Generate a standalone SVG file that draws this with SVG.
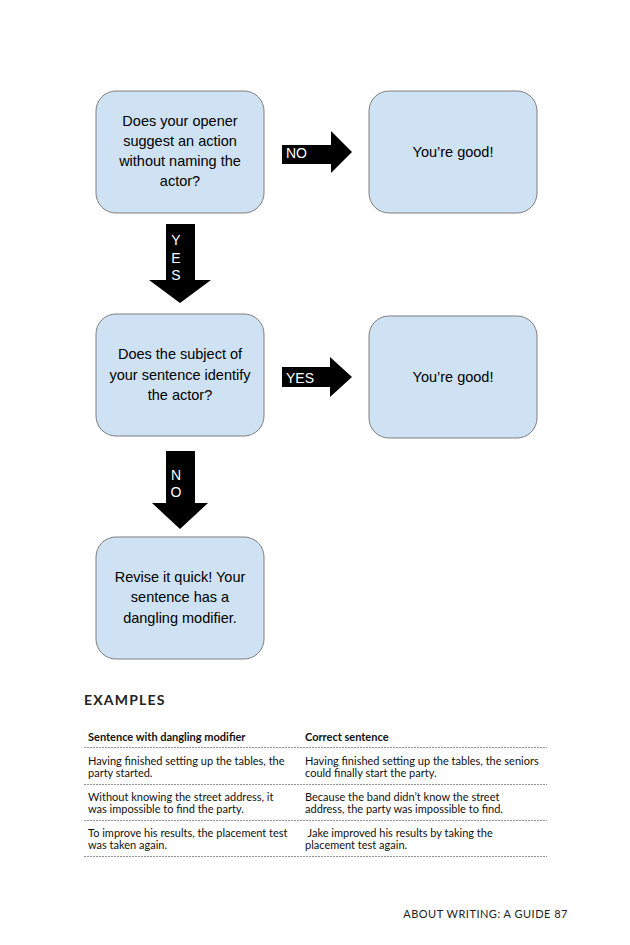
<svg xmlns="http://www.w3.org/2000/svg" width="630" height="945" viewBox="0 0 630 945">
<style>
.box{fill:#cfe2f3;stroke:#7f7f7f;stroke-width:1}
.bt{font-family:"Liberation Sans",Arial,sans-serif;font-size:14.5px;fill:#000;text-anchor:middle}
.arr{fill:#000}
.at{font-family:"Liberation Sans",Arial,sans-serif;font-size:14px;fill:#fff}
.atc{font-family:"Liberation Sans",Arial,sans-serif;font-size:14px;fill:#fff;text-anchor:middle}
.h{font-family:Lato,"Open Sans",sans-serif;font-weight:bold;font-size:14px;letter-spacing:1.2px;fill:#222}
.th{font-family:Lato,"Open Sans",sans-serif;font-weight:bold;font-size:11px;fill:#111}
.td{font-family:Lato,"Open Sans",sans-serif;font-size:11px;fill:#111}
.rule{stroke:#777;stroke-width:0.8;stroke-dasharray:2 1;fill:none}
.ft{font-family:Lato,"Open Sans",sans-serif;font-size:11px;letter-spacing:0.5px;fill:#222;text-anchor:end}
</style>
<rect width="630" height="945" fill="#fff"/>
<g id="connectors">
  <g id="arrow-no-right">
    <polygon class="arr" points="282,145 331,145 331,131 352,152 331,173 331,164 282,164"/>
    <text class="at" x="286" y="158">NO</text>
  </g>
  <g id="arrow-yes-down">
    <polygon class="arr" points="166,224 195,224 195,280 211,280 180,303 149,280 166,280"/>
    <text class="atc" x="176" y="245">Y</text>
    <text class="atc" x="176" y="263">E</text>
    <text class="atc" x="176" y="280">S</text>
  </g>
  <g id="arrow-yes-right">
    <polygon class="arr" points="282,367 330,367 330,357 352,377 330,397 330,387 282,387"/>
    <text class="at" x="286" y="383">YES</text>
  </g>
  <g id="arrow-no-down">
    <polygon class="arr" points="166,451 195,451 195,503 208,503 180,529 152,503 166,503"/>
    <text class="atc" x="176" y="480">N</text>
    <text class="atc" x="176" y="497">O</text>
  </g>
</g>
<g id="node-q1">
  <rect class="box" x="96" y="91" width="168" height="122" rx="20"/>
  <text class="bt" x="180" y="126">Does your opener</text>
  <text class="bt" x="180" y="146">suggest an action</text>
  <text class="bt" x="180" y="166">without naming the</text>
  <text class="bt" x="180" y="186">actor?</text>
</g>
<g id="node-good1">
  <rect class="box" x="369" y="91" width="168" height="122" rx="20"/>
  <text class="bt" x="453" y="157">You’re good!</text>
</g>
<g id="node-q2">
  <rect class="box" x="96" y="314" width="168" height="122" rx="20"/>
  <text class="bt" x="180" y="359">Does the subject of</text>
  <text class="bt" x="180" y="380">your sentence identify</text>
  <text class="bt" x="180" y="400">the actor?</text>
</g>
<g id="node-good2">
  <rect class="box" x="369" y="316" width="168" height="122" rx="20"/>
  <text class="bt" x="453" y="382">You’re good!</text>
</g>
<g id="node-revise">
  <rect class="box" x="96" y="537" width="168" height="122" rx="20"/>
  <text class="bt" x="180" y="582">Revise it quick! Your</text>
  <text class="bt" x="180" y="602">sentence has a</text>
  <text class="bt" x="180" y="623">dangling modifier.</text>
</g>
<g id="examples">
  <text class="h" x="84" y="705">EXAMPLES</text>
  <text class="th" x="88" y="741">Sentence with dangling modifier</text>
  <text class="th" x="305" y="741">Correct sentence</text>
  <line class="rule" x1="84" y1="747.5" x2="547" y2="747.5"/>
  <text class="td" x="88" y="765">Having finished setting up the tables, the</text>
  <text class="td" x="88" y="777">party started.</text>
  <text class="td" x="305" y="765">Having finished setting up the tables, the seniors</text>
  <text class="td" x="305" y="777">could finally start the party.</text>
  <line class="rule" x1="84" y1="784.5" x2="547" y2="784.5"/>
  <text class="td" x="88" y="801">Without knowing the street address, it</text>
  <text class="td" x="88" y="813">was impossible to find the party.</text>
  <text class="td" x="305" y="801">Because the band didn’t know the street</text>
  <text class="td" x="305" y="813">address, the party was impossible to find.</text>
  <line class="rule" x1="84" y1="820.5" x2="547" y2="820.5"/>
  <text class="td" x="88" y="837">To improve his results, the placement test</text>
  <text class="td" x="88" y="849">was taken again.</text>
  <text class="td" x="305" y="837" xml:space="preserve"> Jake improved his results by taking the</text>
  <text class="td" x="305" y="849">placement test again.</text>
  <line class="rule" x1="84" y1="856.5" x2="547" y2="856.5"/>
</g>
<text class="ft" x="568" y="918">ABOUT WRITING: A GUIDE 87</text>
</svg>
